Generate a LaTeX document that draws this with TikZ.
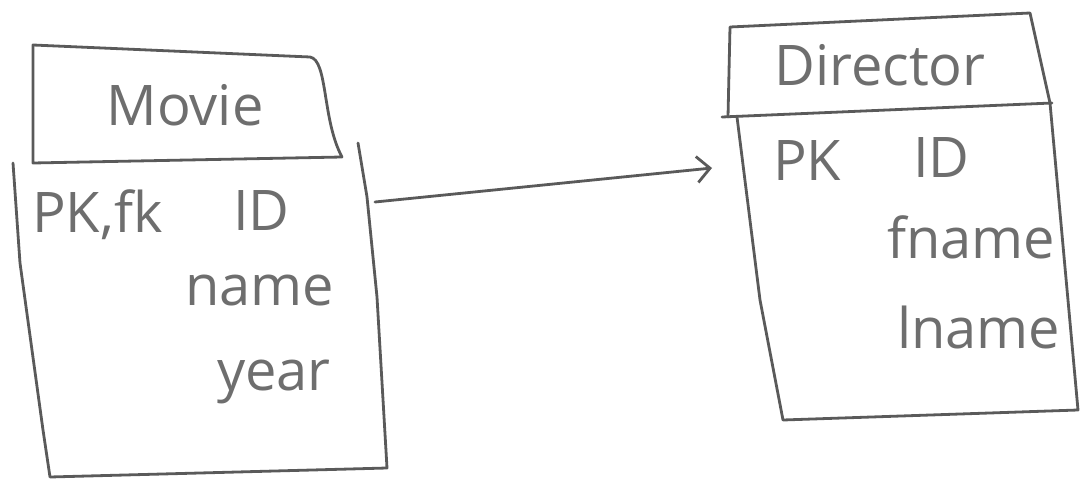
\documentclass[tikz,border=0pt]{standalone}
\usepackage{fontspec}
\setmainfont{Open Sans}
\usepackage{xcolor}
\definecolor{penclr}{HTML}{5A5A5A}
\definecolor{inkclr}{HTML}{6E6E6E}
\usetikzlibrary{arrows.meta,positioning}

\begin{document}
\begin{tikzpicture}[
  x=1pt, y=-1pt,
  pen/.style={draw=penclr, line width=2.8pt, line cap=round, line join=round},
  hand/.style={text=inkclr, font=\fontsize{56}{56}\selectfont, inner sep=0pt},
  >={Straight Barb[length=13pt, width=26pt, line width=2.8pt]}
]
\useasboundingbox (0,0) rectangle (1081,492);

% Movie table
\draw[pen] (33,163) -- (33,45) -- (310,57)
  .. controls (328,60) and (322,120) .. (342,157) -- cycle;
\draw[pen] (13,163) -- (20,263) -- (43,430) -- (50,477)
  -- (387,468) -- (377,297) -- (367,197) -- (358,143);
\node[hand] (mvtitle) at (185,105) {Movie};
\node[hand, anchor=base west] (mvkey) at (32,232) {PK,fk};
\node[hand, anchor=base west] (mvid) at (233,230) {ID};
\node[hand, anchor=base west] (mvname) at (185,305) {name};
\node[hand, anchor=base west] (mvyear) at (217,390) {year};

% Director table
\draw[pen] (728,117) -- (730,27) -- (1030,13) -- (1050,103);
\draw[pen] (722,117) -- (1052,103);
\draw[pen] (737,117) -- (760,300) -- (783,420)
  -- (1078,410) -- (1050,103);
\node[hand] (drtitle) at (880,65) {Director};
\node[hand, anchor=base west] (drkey) at (773,180) {PK};
\node[hand, anchor=base west] (drid) at (913,177) {ID};
\node[hand, anchor=base west] (drfname) at (887,258) {fname};
\node[hand, anchor=base west] (drlname) at (897,348) {lname};

% reference
\coordinate (mvout) at (375,202);
\coordinate (drin) at (712,168);
\draw[pen, ->] (mvout) -- (drin);
\end{tikzpicture}
\end{document}
